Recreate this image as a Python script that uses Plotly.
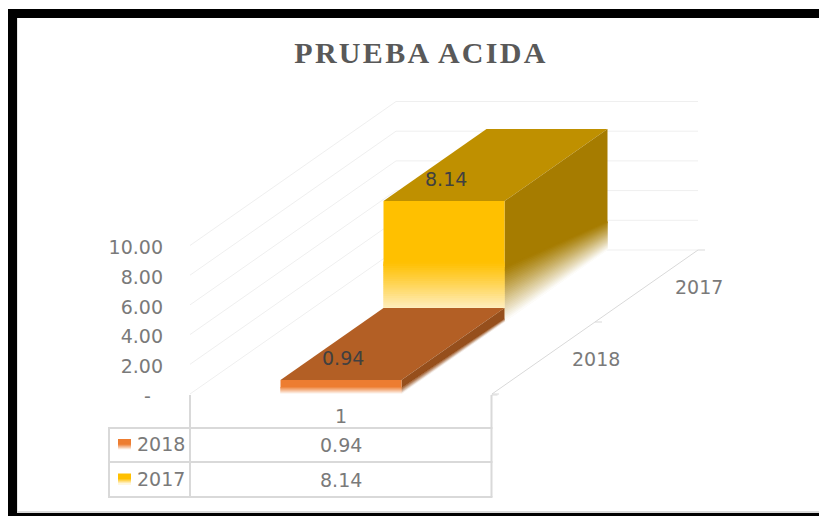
import plotly.graph_objects as go

# ---------- data ----------
title_text = "PRUEBA ACIDA"
series_names = ["2017", "2018"]          # back to front
series_values = [8.14, 0.94]
category_labels = ["1"]
axis_values = [0, 2, 4, 6, 8, 10]
axis_labels = ["-\u00a0\u00a0", "2.00", "4.00", "6.00", "8.00", "10.00"]

# ---------- styles ----------
W, H = 819, 516
X0_PX, CAT_PX = 190.0, 302.0      # floor front-left corner, width of a category
Y0_PX, UNIT_PX = 394.0, 14.85     # floor front level, pixels per value unit
DX_PX, DY_PX = 103.0, 72.0        # pixels of oblique shift per depth slot
DX = DX_PX / CAT_PX               # in x-axis units
DY = DY_PX / UNIT_PX              # in y-axis units
BAR_W = 121.0 / CAT_PX
FONT = "DejaVu Sans"
TICK_SIZE = 19
GREY_TXT = "#7a7a7a"
GRID = "#efefef"
TABLE = "#d9d9d9"
COLORS = {
    "2017": dict(front="#FFC000", top="#BF9000", side="#A67C00"),
    "2018": dict(front="#ED7D31", top="#B35F25", side="#964F1C"),
}
N_FADE = 28


def mix(c, t):
    """c blended towards white by t."""
    r, g, b = int(c[1:3], 16), int(c[3:5], 16), int(c[5:7], 16)
    return "rgb(%d,%d,%d)" % (r + (255 - r) * t, g + (255 - g) * t, b + (255 - b) * t)


def px(x):
    return x / W


def py(y):
    return 1 - y / H


fig = go.Figure()


def poly(pts, color):
    xs = [q[0] for q in pts]
    ys = [q[1] for q in pts]
    fig.add_trace(go.Scatter(
        x=xs + [xs[0]], y=ys + [ys[0]], mode="lines", fill="toself",
        fillcolor=color, line=dict(width=0, simplify=False), hoverinfo="skip", showlegend=False))


def proj(cat, val, depth):
    """oblique projection: category, value, depth slot -> axis coordinates"""
    return cat + depth * DX, val + depth * DY


def wall_line(v, color=GRID, width=1):
    a, b, c = proj(0, v, 0), proj(0, v, 2), proj(1, v, 2)
    fig.add_trace(go.Scatter(x=[a[0], b[0], c[0]], y=[a[1], b[1], c[1]], mode="lines",
                             line=dict(color=color, width=width), hoverinfo="skip", showlegend=False))


for v in axis_values:
    wall_line(v)

# floor right edge with its tick marks
a, b = proj(1, 0, 0), proj(1, 0, 2)
fig.add_trace(go.Scatter(x=[a[0], b[0]], y=[a[1], b[1]], mode="lines",
                         line=dict(color=TABLE, width=1), hoverinfo="skip", showlegend=False))
for d in (0, 1, 2):
    t0 = proj(1, 0, d)
    fig.add_trace(go.Scatter(x=[t0[0], t0[0] + 7 / CAT_PX], y=[t0[1], t0[1]], mode="lines",
                             line=dict(color=TABLE, width=1), hoverinfo="skip", showlegend=False))


def faded(edge, hi_start, hi_end, color, value):
    """Draw a face between two vertical edges (edge(side, v) -> point): solid from the
    top to just under the fade start, then bands to white; each piece runs a little under
    the next, which is painted over it, so no seams appear."""
    under = 1 - 2 / N_FADE
    poly([edge(0, hi_start * under), edge(0, value), edge(1, value), edge(1, hi_end * under)], color)
    for i in range(N_FADE):
        t0, t1 = i / N_FADE, min(1, (i + 2) / N_FADE)
        poly([edge(0, hi_start * (1 - t0)), edge(0, hi_start * (1 - t1)),
              edge(1, hi_end * (1 - t1)), edge(1, hi_end * (1 - t0))],
             mix(color, ((i + 0.5) / N_FADE) ** 1.1))


def bar(value, name, depth):
    col = COLORS[name]
    c0, c1 = 0.5 - BAR_W / 2, 0.5 + BAR_W / 2

    poly([proj(c0, value, depth), proj(c1, value, depth),
          proj(c1, value, depth + 1), proj(c0, value, depth + 1)], col["top"])

    # side face: fade band is angled
    faded(lambda s, v: proj(c1, v, depth + s), 0.455 * value, 0.24 * value, col["side"], value)
    # front face
    faded(lambda s, v: proj(c0 if s == 0 else c1, v, depth), 0.5 * value, 0.5 * value, col["front"], value)


annotations = []
for name, val in zip(series_names, series_values):
    depth = series_names[::-1].index(name)
    bar(val, name, depth)
    xa, ya = proj(0.5, val, depth)
    annotations.append(dict(x=xa + 2 / CAT_PX, y=ya + 22 / UNIT_PX, xref="x", yref="y", text=f"{val:.2f}",
                            xanchor="center", yanchor="middle", showarrow=False,
                            font=dict(family=FONT, size=TICK_SIZE, color="#404040")))
    # depth-axis labels
    xl, yl = proj(1, 0, depth + 0.5)
    annotations.append(dict(x=xl + 52 / CAT_PX, y=yl - 1 / UNIT_PX, xref="x", yref="y", text=name,
                            xanchor="center", yanchor="middle", showarrow=False,
                            font=dict(family=FONT, size=TICK_SIZE, color=GREY_TXT)))

# ---------- data table ----------
shapes = []


def line(x0, y0, x1, y1, color=TABLE, w=2):
    shapes.append(dict(type="line", xref="paper", yref="paper", x0=px(x0), y0=py(y0), x1=px(x1), y1=py(y1),
                       line=dict(color=color, width=w), layer="above"))


def block(x0, y0, x1, y1, color):
    shapes.append(dict(type="rect", xref="paper", yref="paper", x0=px(x0), y0=py(y0), x1=px(x1), y1=py(y1),
                       line=dict(width=0), fillcolor=color, layer="above"))


TX0, TX1, TX2 = 109, 190, 491.5
ROWS = [428, 462, 497]
line(TX1, 395, TX1, ROWS[-1])
line(TX2, 395, TX2, ROWS[-1])
line(TX2, 395, TX2 + 6, 395, w=1)
line(TX0, ROWS[0], TX0, ROWS[-1])
for r in ROWS:
    line(TX0 - 1, r, TX2 + 1, r)


def cell(x, y, text):
    annotations.append(dict(x=px(x), y=py(y), xref="paper", yref="paper", text=text, showarrow=False,
                            xanchor="center", yanchor="middle",
                            font=dict(family=FONT, size=TICK_SIZE, color=GREY_TXT)))


cell((TX1 + TX2) / 2, 416, category_labels[0])
for name, r0, r1 in zip(series_names[::-1], ROWS[:-1], ROWS[1:]):
    val = series_values[series_names.index(name)]
    mid = (r0 + r1) / 2
    cell((TX1 + TX2) / 2, mid, f"{val:.2f}")
    cell(161, mid - 1, name)
    base = COLORS[name]["front"]
    block(118, mid - 6, 131, mid + 5, base)
    for i in range(8):
        t = (i + 1) / 8
        block(118, mid - 0.5 + i * 0.7, 131, mid + 5, mix(base, t))

# ---------- frame ----------
block(8, 9, 819, 18, "#000000")
block(8, 9, 17, 516, "#000000")
block(8, 513, 819, 516, "#000000")
block(17, 511, 819, 513, TABLE)
block(17, 18, 18, 511, "#e4e4e4")

fig.update_layout(
    width=W, height=H, margin=dict(l=0, r=0, t=0, b=0), paper_bgcolor="white", plot_bgcolor="white",
    showlegend=False, shapes=shapes, annotations=annotations,
    title=dict(text=title_text, x=421 / W, y=py(52), xanchor="center", yanchor="middle", xref="paper", yref="paper",
               font=dict(family="Liberation Serif", size=30, color="#595959", weight="bold")),
    xaxis=dict(range=[-X0_PX / CAT_PX, (W - X0_PX) / CAT_PX], visible=False, fixedrange=True),
    yaxis=dict(range=[(Y0_PX - H) / UNIT_PX, Y0_PX / UNIT_PX], anchor="free", position=163 / W,
               tickmode="array", tickvals=axis_values, ticktext=axis_labels, showgrid=False, zeroline=False,
               showline=False, ticks="", tickfont=dict(family=FONT, size=TICK_SIZE, color=GREY_TXT),
               ticklabelshift=2, fixedrange=True),
)

fig.write_html("out.html",
               post_script="document.body.style.margin='0';document.body.style.overflow='hidden';"
                           "var t=document.querySelector('.gtitle');if(t){t.style.letterSpacing='2.3px';}",
               config=dict(displayModeBar=False))
